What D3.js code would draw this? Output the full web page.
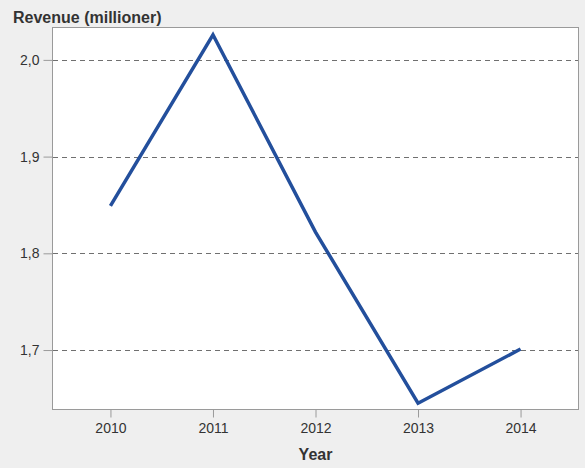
<!DOCTYPE html>
<html>
<head>
<meta charset="utf-8">
<script src="https://cdn.jsdelivr.net/npm/d3@7"></script>
<style>
  html, body { margin: 0; padding: 0; background: #efefef; }
  svg { display: block; font-family: "Liberation Sans", Arial, sans-serif; }
</style>
</head>
<body>
<svg id="chart" width="585" height="468"></svg>
<script>
// Annual revenue in millions
const years = [2010, 2011, 2012, 2013, 2014];
const revenue = [1.849, 2.026, 1.822, 1.645, 1.701];
const yTicks = [1.7, 1.8, 1.9, 2.0];

const W = 585, H = 468;
const margin = { top: 27, right: 6, bottom: 58, left: 52 };
const svg = d3.select("#chart");

const x = d3.scalePoint()
  .domain(years)
  .range([margin.left, W - margin.right])
  .padding(0.57);

const y = d3.scaleLinear()
  .domain([1.638, 2.034])
  .range([H - margin.bottom, margin.top]);

const fmt = d => d.toFixed(1).replace(".", ",");

// plot area
svg.append("rect")
  .attr("x", margin.left + 0.5)
  .attr("y", margin.top + 0.5)
  .attr("width", W - margin.left - margin.right - 1)
  .attr("height", H - margin.top - margin.bottom - 1)
  .attr("fill", "#ffffff")
  .attr("stroke", "#9a9a9a")
  .attr("stroke-width", 1);

// dashed gridlines
svg.append("g")
  .selectAll("line")
  .data(yTicks)
  .join("line")
  .attr("x1", margin.left + 1)
  .attr("x2", W - margin.right - 1)
  .attr("y1", d => Math.round(y(d)) + 0.5)
  .attr("y2", d => Math.round(y(d)) + 0.5)
  .attr("stroke", "#707070")
  .attr("stroke-dasharray", "5,4");

// y axis
const yAxis = svg.append("g")
  .attr("transform", `translate(${margin.left + 0.5},0)`)
  .call(d3.axisLeft(y).tickValues(yTicks).tickFormat(fmt).tickSize(9).tickPadding(4));
yAxis.select(".domain").remove();
yAxis.selectAll(".tick line").attr("stroke", "#9a9a9a");
yAxis.selectAll(".tick text").attr("fill", "#333").style("font-size", "14px");

// x axis
const xAxis = svg.append("g")
  .attr("transform", `translate(0,${H - margin.bottom - 0.5})`)
  .call(d3.axisBottom(x).tickSize(8).tickPadding(6));
xAxis.select(".domain").remove();
xAxis.selectAll(".tick line").attr("stroke", "#9a9a9a");
xAxis.selectAll(".tick text").attr("fill", "#333").style("font-size", "14px");

// revenue line
const line = d3.line()
  .x((d, i) => x(years[i]))
  .y(d => y(d));

svg.append("path")
  .datum(revenue)
  .attr("d", line)
  .attr("fill", "none")
  .attr("stroke", "#234f9c")
  .attr("stroke-width", 3.5)
  .attr("stroke-linejoin", "miter");

// titles
svg.append("text")
  .attr("x", 13)
  .attr("y", 23)
  .attr("font-weight", "bold")
  .attr("font-size", "16px")
  .attr("fill", "#333")
  .text("Revenue (millioner)");

svg.append("text")
  .attr("x", (margin.left + W - margin.right) / 2)
  .attr("y", 460)
  .attr("text-anchor", "middle")
  .attr("font-weight", "bold")
  .attr("font-size", "16px")
  .attr("fill", "#333")
  .text("Year");
</script>
</body>
</html>
